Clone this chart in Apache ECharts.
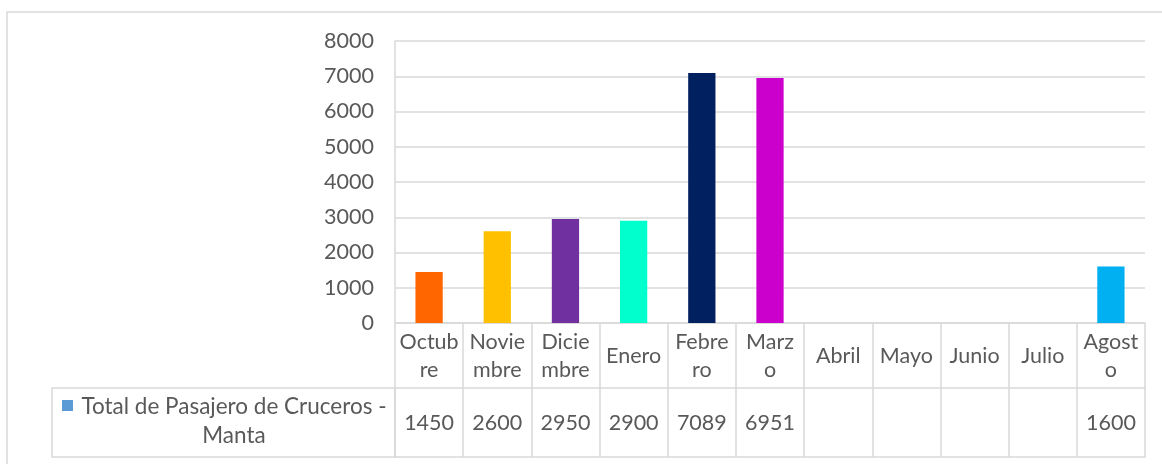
<!DOCTYPE html>
<html>
<head>
<meta charset="utf-8">
<script src="https://cdn.jsdelivr.net/npm/echarts@6/dist/echarts.min.js"></script>
<style>
html, body { margin: 0; padding: 0; background: #fff; }
#main { width: 1162px; height: 464px; }
</style>
</head>
<body>
<div id="main"></div>
<script>
var months = ['Octubre', 'Noviembre', 'Diciembre', 'Enero', 'Febrero', 'Marzo', 'Abril', 'Mayo', 'Junio', 'Julio', 'Agosto'];
// labels as they wrap in the table cells
var monthLabels = ['Octub\nre', 'Novie\nmbre', 'Dicie\nmbre', 'Enero', 'Febre\nro', 'Marz\no', 'Abril', 'Mayo', 'Junio', 'Julio', 'Agost\no'];
var passengers = [1450, 2600, 2950, 2900, 7089, 6951, null, null, null, null, 1600];
var barColors = ['#ff6600', '#ffc000', '#7030a0', '#00ffcc', '#002060', '#cc00cc', '#5b9bd5', '#5b9bd5', '#5b9bd5', '#5b9bd5', '#00b0f0'];
var seriesName = 'Total de Pasajero de Cruceros -\nManta';

var lineCol = '#d9d9d9';
var textCol = '#595959';
var font = 'Lato';
var fs = 21.5;

var option = {
    animation: false,
    textStyle: { fontFamily: font },
    grid: { left: 395, right: 17, top: 41, bottom: 141 },
    xAxis: [
        {
            type: 'category',
            data: months,
            position: 'bottom',
            axisLine: { show: true, lineStyle: { color: lineCol, width: 1.5 } },
            axisTick: { show: true, interval: 0, length: 134, lineStyle: { color: lineCol, width: 1.5 } },
            axisLabel: {
                interval: 0, margin: 33, verticalAlign: 'middle',
                color: textCol, fontSize: fs, lineHeight: 28, fontFamily: font,
                formatter: function (v, i) { return monthLabels[i]; }
            }
        },
        {
            type: 'category',
            data: months,
            position: 'bottom',
            offset: 65,
            axisLine: { show: true, lineStyle: { color: lineCol, width: 1.5 } },
            axisTick: { show: false },
            axisLabel: {
                interval: 0, margin: 35, verticalAlign: 'middle',
                color: textCol, fontSize: fs, fontFamily: font,
                formatter: function (v, i) { return passengers[i] == null ? '' : String(passengers[i]); }
            }
        },
        {
            type: 'category',
            data: months,
            position: 'bottom',
            offset: 134,
            axisLine: { show: true, lineStyle: { color: lineCol, width: 1.5 } },
            axisTick: { show: false },
            axisLabel: { show: false }
        }
    ],
    yAxis: {
        type: 'value',
        min: 0,
        max: 8000,
        interval: 1000,
        axisLine: { show: true, lineStyle: { color: lineCol, width: 1.5 } },
        axisTick: { show: false },
        splitLine: { lineStyle: { color: lineCol, width: 1.5 } },
        axisLabel: {
            color: textCol, fontSize: fs, margin: 21, fontFamily: font,
            formatter: function (v) { return String(v); }
        }
    },
    graphic: [
        {
            type: 'rect',
            shape: { x: 7, y: 12, width: 1170, height: 470 },
            style: { fill: null, stroke: lineCol, lineWidth: 1.5 },
            silent: true
        },
        {
            type: 'rect',
            shape: { x: 52, y: 388, width: 343, height: 69 },
            style: { fill: null, stroke: lineCol, lineWidth: 1.5 },
            silent: true
        },
        {
            type: 'rect',
            shape: { x: 62, y: 400, width: 11, height: 11 },
            style: { fill: '#5b9bd5' },
            silent: true
        },
        {
            type: 'text',
            x: 234,
            y: 421,
            style: {
                text: seriesName,
                fill: textCol,
                font: '22.5px ' + font,
                lineHeight: 29,
                align: 'center',
                verticalAlign: 'middle'
            },
            silent: true
        }
    ],
    series: [{
        name: seriesName,
        type: 'bar',
        barWidth: '40%',
        itemStyle: { color: '#5b9bd5' },
        data: passengers.map(function (v, i) {
            return { value: v, itemStyle: { color: barColors[i] } };
        })
    }]
};

var myChart = echarts.init(document.getElementById('main'));
myChart.setOption(option);
</script>
</body>
</html>
